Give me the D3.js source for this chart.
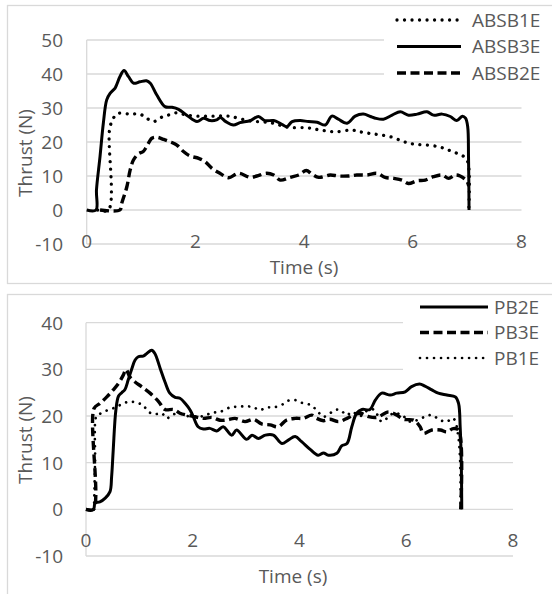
<!DOCTYPE html>
<html>
<head>
<meta charset="utf-8">
<script src="https://cdn.jsdelivr.net/npm/d3@7"></script>
<style>
  body { margin: 0; background: #fff; }
  text { font-family: "Open Sans", sans-serif; fill: #595959; }
</style>
</head>
<body>
<div id="chart"></div>
<script>
// ---- data ----
var xTicks = [0, 2, 4, 6, 8];
var yTicksTop = [-10, 0, 10, 20, 30, 40, 50];
var yTicksBottom = [-10, 0, 10, 20, 30, 40];

// top panel
var absb3eTime = [0, 0.17, 0.18, 0.245, 0.306, 0.368, 0.43, 0.52, 0.55, 0.61, 0.687, 0.77, 0.86, 0.98, 1.10, 1.17, 1.29, 1.44, 1.57, 1.69, 1.84, 2.03, 2.15, 2.27, 2.39, 2.46, 2.56, 2.70, 2.82, 3.01, 3.16, 3.28, 3.44, 3.56, 3.68, 3.78, 3.93, 4.08, 4.24, 4.39, 4.51, 4.63, 4.79, 4.94, 5.09, 5.22, 5.31, 5.46, 5.62, 5.77, 5.92, 6.08, 6.26, 6.38, 6.54, 6.69, 6.81, 6.91, 6.97, 7.01, 7.025, 7.035];
var absb3eThrust = [0, 0, 5.9, 15.7, 25.5, 32.4, 34.3, 35.8, 36.8, 39.2, 41.0, 39.2, 37.3, 37.7, 38.0, 37.3, 33.8, 30.4, 30.2, 29.6, 27.9, 26.0, 27.0, 26.3, 26.5, 27.2, 26.0, 25.0, 25.7, 26.3, 27.5, 26.3, 26.3, 25.5, 24.5, 26.0, 26.3, 26.0, 25.8, 25.0, 27.6, 26.7, 25.5, 27.6, 28.2, 27.5, 27.0, 26.7, 27.9, 28.9, 27.9, 28.2, 28.9, 27.9, 28.2, 27.5, 26.3, 27.6, 27.0, 24.5, 15.7, 0];

var absb1eTime = [0.20, 0.40, 0.42, 0.49, 0.58, 0.80, 0.98, 1.10, 1.23, 1.38, 1.50, 1.66, 1.84, 2.03, 2.33, 2.61, 3.0, 3.4, 3.71, 4.05, 4.30, 4.57, 4.88, 5.03, 5.22, 5.40, 5.62, 5.83, 6.01, 6.26, 6.48, 6.66, 6.81, 6.94, 7.015, 7.03];
var absb1eThrust = [0, 0, 23.5, 27.0, 28.4, 28.2, 28.2, 27.0, 26.0, 27.3, 27.9, 28.6, 27.9, 27.6, 27.6, 27.6, 26.2, 25.6, 24.3, 24.2, 23.5, 23.0, 23.5, 23.0, 22.5, 22.1, 21.4, 20.1, 19.4, 19.1, 18.6, 17.6, 16.7, 15.7, 14.0, 0];

var absb2eTime = [0.245, 0.61, 0.645, 0.74, 0.80, 0.86, 0.95, 1.04, 1.10, 1.20, 1.29, 1.41, 1.53, 1.66, 1.78, 1.90, 2.06, 2.18, 2.30, 2.45, 2.61, 2.79, 3.01, 3.13, 3.31, 3.44, 3.56, 3.74, 3.90, 4.04, 4.14, 4.27, 4.48, 4.63, 4.82, 4.97, 5.16, 5.34, 5.49, 5.65, 5.80, 5.92, 6.08, 6.23, 6.38, 6.54, 6.66, 6.78, 6.87, 6.99, 7.03];
var absb2eThrust = [0, 0, 2.0, 6.9, 11.8, 14.7, 16.5, 17.2, 18.6, 21.1, 21.4, 20.8, 20.1, 19.1, 17.2, 15.9, 15.2, 14.2, 12.3, 10.8, 9.5, 10.8, 9.6, 10.0, 10.8, 10.3, 8.8, 9.6, 10.3, 11.6, 10.6, 9.6, 10.3, 10.0, 10.0, 10.3, 10.3, 10.8, 9.6, 9.3, 8.8, 7.8, 8.6, 8.8, 9.8, 10.3, 9.3, 10.3, 10.0, 8.6, 7.0];

// bottom panel
var pb2eTime = [0, 0.14, 0.17, 0.26, 0.36, 0.45, 0.48, 0.51, 0.56, 0.61, 0.67, 0.73, 0.79, 0.86, 0.92, 0.98, 1.07, 1.14, 1.23, 1.29, 1.39, 1.48, 1.57, 1.67, 1.76, 1.86, 1.95, 2.01, 2.10, 2.20, 2.32, 2.45, 2.57, 2.73, 2.82, 3.01, 3.11, 3.23, 3.36, 3.51, 3.67, 3.79, 3.92, 4.04, 4.20, 4.35, 4.45, 4.54, 4.70, 4.79, 4.89, 4.98, 5.07, 5.17, 5.32, 5.42, 5.54, 5.70, 5.82, 5.98, 6.10, 6.25, 6.35, 6.48, 6.60, 6.76, 6.92, 6.98, 7.01, 7.03, 7.04];
var pb2eThrust = [0, 0, 1.4, 1.6, 2.4, 3.8, 7.0, 12.7, 21.3, 24.3, 25.0, 25.7, 27.7, 30.2, 32.0, 32.7, 32.85, 33.4, 34.1, 33.4, 30.2, 27.3, 24.9, 24.0, 23.8, 22.7, 21.3, 19.85, 17.7, 17.2, 17.35, 16.8, 17.7, 15.9, 17.0, 15.0, 15.9, 15.2, 15.9, 15.9, 14.1, 14.85, 15.6, 14.5, 12.85, 11.6, 12.1, 11.6, 12.0, 13.6, 14.1, 17.7, 20.6, 21.4, 21.4, 23.4, 24.9, 24.5, 24.9, 25.2, 26.3, 26.85, 26.4, 25.6, 24.9, 24.5, 24.1, 22.7, 17.7, 10.6, 0];

var pb3eTime = [0, 0.14, 0.15, 0.26, 0.39, 0.51, 0.61, 0.70, 0.75, 0.82, 0.92, 1.04, 1.20, 1.36, 1.48, 1.64, 1.76, 1.89, 2.04, 2.20, 2.36, 2.51, 2.64, 2.79, 2.98, 3.14, 3.29, 3.45, 3.60, 3.76, 3.92, 4.07, 4.23, 4.32, 4.45, 4.57, 4.73, 4.89, 5.01, 5.14, 5.29, 5.45, 5.67, 5.82, 5.95, 6.14, 6.26, 6.32, 6.48, 6.64, 6.76, 6.88, 6.98, 7.02];
var pb3eThrust = [0, 0, 21.6, 22.7, 24.1, 25.6, 27.0, 28.8, 30.0, 28.4, 27.3, 26.3, 24.9, 23.1, 21.4, 21.4, 20.6, 20.2, 19.85, 19.5, 19.7, 19.1, 19.15, 19.5, 18.8, 19.3, 18.3, 18.1, 17.7, 19.15, 19.5, 19.5, 20.2, 19.5, 19.0, 19.3, 18.8, 19.5, 20.2, 20.6, 19.9, 19.7, 20.9, 20.2, 19.3, 19.1, 17.7, 16.3, 17.0, 17.0, 16.6, 17.3, 17.0, 0];

var pb1eTime = [0.15, 0.17, 0.19, 0.23, 0.32, 0.45, 0.58, 0.70, 0.82, 0.95, 1.07, 1.17, 1.29, 1.42, 1.51, 1.61, 1.73, 1.89, 2.04, 2.20, 2.36, 2.51, 2.70, 2.85, 3.01, 3.14, 3.26, 3.39, 3.51, 3.67, 3.79, 3.92, 4.04, 4.20, 4.32, 4.45, 4.67, 4.76, 4.89, 4.98, 5.14, 5.23, 5.39, 5.54, 5.67, 5.76, 5.92, 6.07, 6.20, 6.35, 6.48, 6.64, 6.76, 6.88, 6.98, 7.02];
var pb1eThrust = [0, 10, 19.85, 20.2, 20.9, 21.4, 22.0, 22.7, 23.1, 22.85, 22.3, 20.9, 20.4, 20.6, 19.5, 20.2, 20.6, 20.0, 19.85, 20.0, 20.7, 20.9, 21.85, 22.0, 22.1, 21.85, 21.3, 21.85, 21.85, 22.4, 23.3, 23.4, 22.85, 22.4, 21.3, 19.85, 21.3, 21.3, 20.2, 20.9, 20.0, 20.9, 21.4, 18.8, 19.85, 20.6, 20.2, 18.8, 19.1, 19.85, 20.2, 19.1, 18.8, 19.5, 15.2, 0];

// line styles
var styles = {
  solid:  {width: 3,   dash: null,       cap: "butt"},
  dashed: {width: 3.4, dash: "9,4.5",    cap: "butt"},
  dotted: {width: 3.3, dash: "0.01,7.5", cap: "round"},
  dottedThin: {width: 2.7, dash: "0.01,7", cap: "round"}
};

var zip = (ts, vs) => ts.map((t, i) => ({t: t, v: vs[i]}));

var svg = d3.select("#chart")
  .append("svg")
  .attr("width", 552)
  .attr("height", 594);

// one chart panel
let drawPanel = (opt) =>
{
  var g = svg.append("g");

  // outer chart border
  g.append("rect")
    .attr("x", 7.5).attr("y", opt.boxTop + 0.5)
    .attr("width", 560).attr("height", opt.boxHeight)
    .attr("fill", "#fff")
    .attr("stroke", "#d9d9d9")
    .attr("stroke-width", 1.3);

  var x = d3.scaleLinear().domain([0, 8]).range(opt.xRange);
  var y = d3.scaleLinear().domain(opt.yDomain).range(opt.yRange);

  // horizontal gridlines
  g.selectAll(".grid")
    .data(opt.yTicks)
    .enter()
    .append("line")
    .attr("x1", x(0)).attr("x2", x(8))
    .attr("y1", d => y(d)).attr("y2", d => y(d))
    .attr("stroke", "#d9d9d9")
    .attr("stroke-width", 1.3);

  // vertical axis line
  g.append("line")
    .attr("x1", x(0)).attr("x2", x(0))
    .attr("y1", y(opt.yDomain[1])).attr("y2", y(opt.yDomain[0]))
    .attr("stroke", "#d9d9d9")
    .attr("stroke-width", 1.3);

  // y tick labels
  g.selectAll(".ylab")
    .data(opt.yTicks)
    .enter()
    .append("text")
    .attr("x", 63)
    .attr("y", d => y(d))
    .attr("dy", "0.36em")
    .attr("text-anchor", "end")
    .style("font-size", "19px")
    .text(d => d);

  // x tick labels sit ~31px under the zero line
  g.selectAll(".xlab")
    .data(xTicks)
    .enter()
    .append("text")
    .attr("x", d => x(d))
    .attr("y", y(0) + 31)
    .attr("dy", "0.36em")
    .attr("text-anchor", "middle")
    .style("font-size", "19px")
    .text(d => d);

  // axis titles
  g.append("text")
    .attr("transform", "translate(25," + opt.yTitleY + ") rotate(-90)")
    .attr("dy", "0.36em")
    .attr("text-anchor", "middle")
    .style("font-size", "19px")
    .text("Thrust (N)");

  g.append("text")
    .attr("x", opt.xTitleX)
    .attr("y", opt.xTitleY)
    .attr("dy", "0.36em")
    .attr("text-anchor", "middle")
    .style("font-size", "19px")
    .text("Time (s)");

  var line = d3.line()
    .x(d => x(d.t))
    .y(d => y(d.v))
    .curve(d3.curveCatmullRom.alpha(0.5));

  opt.series.forEach(s => {
    var st = styles[s.style];
    g.append("path")
      .datum(zip(s.time, s.thrust))
      .attr("d", line)
      .attr("fill", "none")
      .attr("stroke", "#000")
      .attr("stroke-width", st.width)
      .attr("stroke-dasharray", st.dash)
      .attr("stroke-linecap", st.cap)
      .attr("stroke-linejoin", "round");
  });

  // legend, white box over the gridlines
  var lg = opt.legend;
  g.append("rect")
    .attr("x", lg.x).attr("y", lg.y)
    .attr("width", 552 - lg.x).attr("height", lg.h)
    .attr("fill", "#fff");

  lg.items.forEach((it, i) => {
    var st = styles[it.style];
    var yy = lg.firstY + i * lg.step;
    g.append("line")
      .attr("x1", lg.lineX1).attr("x2", lg.lineX2)
      .attr("y1", yy).attr("y2", yy)
      .attr("stroke", "#000")
      .attr("stroke-width", st.width)
      .attr("stroke-dasharray", st.dash)
      .attr("stroke-linecap", st.cap);
    g.append("text")
      .attr("x", lg.textX)
      .attr("y", yy)
      .attr("dy", "0.36em")
      .style("font-size", "19px")
      .text(it.name);
  });
};

drawPanel({
  boxTop: 5, boxHeight: 278,
  xRange: [86.7, 521.5],
  yDomain: [-10, 50], yRange: [244, 40],
  yTicks: yTicksTop,
  yTitleY: 153, xTitleX: 304, xTitleY: 267,
  series: [
    {time: absb1eTime, thrust: absb1eThrust, style: "dotted"},
    {time: absb2eTime, thrust: absb2eThrust, style: "dashed"},
    {time: absb3eTime, thrust: absb3eThrust, style: "solid"}
  ],
  legend: {
    x: 384, y: 7, h: 80, firstY: 20, step: 26.5,
    lineX1: 397, lineX2: 461, textX: 472,
    items: [
      {name: "ABSB1E", style: "dotted"},
      {name: "ABSB3E", style: "solid"},
      {name: "ABSB2E", style: "dashed"}
    ]
  }
});

drawPanel({
  boxTop: 294, boxHeight: 320,
  xRange: [86, 513],
  yDomain: [-10, 40], yRange: [556, 322.7],
  yTicks: yTicksBottom,
  yTitleY: 440, xTitleX: 293, xTitleY: 576,
  series: [
    {time: pb1eTime, thrust: pb1eThrust, style: "dottedThin"},
    {time: pb3eTime, thrust: pb3eThrust, style: "dashed"},
    {time: pb2eTime, thrust: pb2eThrust, style: "solid"}
  ],
  legend: {
    x: 403, y: 296, h: 76, firstY: 307, step: 25.5,
    lineX1: 420, lineX2: 488, textX: 494,
    items: [
      {name: "PB2E", style: "solid"},
      {name: "PB3E", style: "dashed"},
      {name: "PB1E", style: "dottedThin"}
    ]
  }
});
</script>
</body>
</html>
